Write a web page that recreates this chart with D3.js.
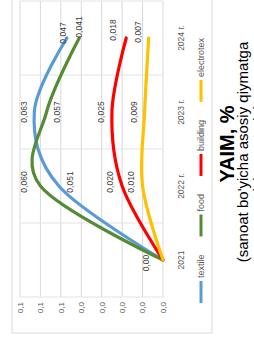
<!DOCTYPE html>
<html>
<head>
<meta charset="utf-8">
<script src="https://cdn.jsdelivr.net/npm/d3@7"></script>
<style>
  body { margin: 0; background: #fff; }
  text { font-family: "Liberation Sans", Arial, sans-serif; }
</style>
</head>
<body>
<div id="dataviz"></div>
<script>
// data
let categories = ["2021", "2022 г.", "2023 г.", "2024 г."];
let seriesNames = ["textile", "food", "building", "electrotex"];
let textile = [0.00, 0.051, 0.063, 0.047];
let food = [0.00, 0.060, 0.057, 0.041];
let building = [0.00, 0.020, 0.025, 0.018];
let electrotex = [0.00, 0.010, 0.009, 0.007];
let yTicks = [0, 0.01, 0.02, 0.03, 0.04, 0.05, 0.06, 0.07];
let yTickLabels = ["0,0", "0,0", "0,0", "0,0", "0,0", "0,1", "0,1", "0,1"];
let title = "YAIM, %";
let subtitle = ["(sanoat bo'yicha asosiy qiymatga", "nisbatan %da)"];

// styling / label placement (not data)
let colors = ["#5B9BD5", "#558B35", "#FF0000", "#FFC000"];
let labelOffsets = [
    [[-3, -17], [4, 11], [0, -10], [5, -4]],
    [null, [4, -16], [0, 10], [11, 0]],
    [null, [4, -12], [0, -11], [8, -13]],
    [null, [4, -12], [0, -11], [6, -11]]
];

let values = [textile, food, building, electrotex];

// the whole chart is drawn sideways (rotated -90deg)
let W = 254, H = 338;
let svg = d3.select("#dataviz")
    .append("svg")
    .attr("width", W)
    .attr("height", H);

svg.append("rect").attr("width", W).attr("height", H).attr("fill", "#fff");

let g = svg.append("g")
    .attr("transform", "translate(0," + H + ") rotate(-90)");

// outer chart box
g.append("rect")
    .attr("x", 5).attr("y", 12)
    .attr("width", 360).attr("height", 200)
    .attr("fill", "none")
    .attr("stroke", "#D9D9D9")
    .attr("stroke-width", 1);

let x = d3.scalePoint()
    .domain(categories)
    .range([41, 337])
    .padding(0.5);

let y = d3.scaleLinear()
    .domain([0, 0.07])
    .range([163, 20]);

// horizontal grid
g.append("g")
    .selectAll("line")
    .data(yTicks)
    .enter()
    .append("line")
    .attr("x1", 41).attr("x2", 337)
    .attr("y1", function (d) { return y(d); })
    .attr("y2", function (d) { return y(d); })
    .attr("stroke", "#D9D9D9")
    .attr("stroke-width", 1);

// category boundaries
let step = x.step();
let bounds = categories.map(function (c) { return x(c) - step / 2; });
bounds.push(x(categories[categories.length - 1]) + step / 2);
g.append("g")
    .selectAll("line")
    .data(bounds)
    .enter()
    .append("line")
    .attr("x1", function (d) { return d; })
    .attr("x2", function (d) { return d; })
    .attr("y1", y(0.07)).attr("y2", y(0))
    .attr("stroke", "#E3E3E3")
    .attr("stroke-width", 1);

// y tick labels
g.append("g")
    .selectAll("text")
    .data(yTicks)
    .enter()
    .append("text")
    .attr("x", 36)
    .attr("y", function (d) { return y(d); })
    .attr("dy", "0.35em")
    .attr("text-anchor", "end")
    .style("font-size", "8px")
    .style("fill", "#595959")
    .text(function (d, i) { return yTickLabels[i]; });

// category labels
g.append("g")
    .selectAll("text")
    .data(categories)
    .enter()
    .append("text")
    .attr("x", function (d) { return x(d); })
    .attr("y", 184)
    .attr("text-anchor", "middle")
    .style("font-size", "8.5px")
    .style("fill", "#595959")
    .text(function (d) { return d; });

// smoothed lines (excel style)
let line = d3.line()
    .x(function (d, i) { return x(categories[i]); })
    .y(function (d) { return y(d); })
    .curve(d3.curveCatmullRom.alpha(0));

g.append("g")
    .selectAll("path")
    .data(values)
    .enter()
    .append("path")
    .attr("d", function (d) { return line(d); })
    .attr("fill", "none")
    .attr("stroke", function (d, i) { return colors[i]; })
    .attr("stroke-width", 3.2)
    .attr("stroke-linecap", "round");

// data labels
let fmt = function (v) {
    if (v === 0) return "0,00";
    return d3.format(".3f")(v).replace(".", ",");
};
values.forEach(function (vals, s) {
    vals.forEach(function (v, i) {
        let off = labelOffsets[s][i];
        if (!off) return;
        g.append("text")
            .attr("x", x(categories[i]) + off[0])
            .attr("y", y(v) + off[1])
            .attr("dy", "0.35em")
            .attr("text-anchor", "middle")
            .style("font-size", "8.5px")
            .style("fill", "#404040")
            .text(fmt(v));
    });
});

// legend
let legend = g.append("g");
let lx = 35, ly = 201;
seriesNames.forEach(function (name, i) {
    legend.append("line")
        .attr("x1", lx).attr("x2", lx + 22)
        .attr("y1", ly).attr("y2", ly)
        .attr("stroke", colors[i])
        .attr("stroke-width", 3);
    let t = legend.append("text")
        .attr("x", lx + 25)
        .attr("y", ly)
        .attr("dy", "0.35em")
        .style("font-size", "9px")
        .style("fill", "#595959")
        .text(name);
    lx += 25 + t.node().getComputedTextLength() + 18;
});

// title below the box
g.append("text")
    .attr("x", 194)
    .attr("y", 234)
    .attr("text-anchor", "middle")
    .style("font-size", "20px")
    .style("font-weight", "bold")
    .style("fill", "#000")
    .text(title);

g.append("g")
    .selectAll("text")
    .data(subtitle)
    .enter()
    .append("text")
    .attr("x", 186)
    .attr("y", function (d, i) { return 248 + i * 16; })
    .attr("text-anchor", "middle")
    .style("font-size", "15px")
    .style("fill", "#000")
    .text(function (d) { return d; });
</script>
</body>
</html>
